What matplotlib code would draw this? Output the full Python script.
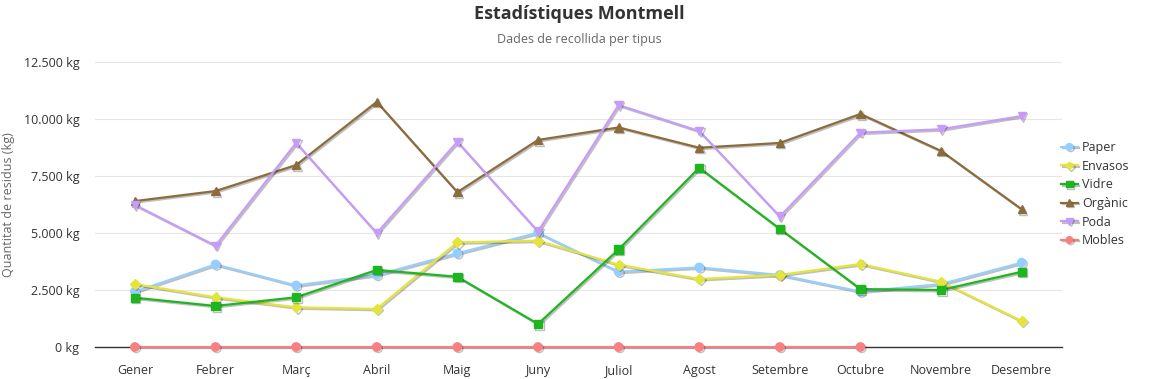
import matplotlib

matplotlib.use("Agg")
import matplotlib.pyplot as plt
import matplotlib.patheffects as pe
from matplotlib.ticker import FuncFormatter, MultipleLocator

plt.rcParams["font.family"] = ["Open Sans", "DejaVu Sans"]

months = ["Gener", "Febrer", "Març", "Abril", "Maig", "Juny", "Juliol",
          "Agost", "Setembre", "Octubre", "Novembre", "Desembre"]

paper = [2430, 3620, 2700, 3160, 4110, 5010, 3300, 3490, 3160, 2430, 2760, 3700]
envasos = [2760, 2180, 1740, 1670, 4590, 4660, 3610, 2980, 3160, 3640, 2860, 1140]
vidre = [2160, 1800, 2180, 3380, 3080, 1010, 4280, 7860, 5180, 2540, 2500, 3300]
organic = [6400, 6840, 7980, 10750, 6790, 9080, 9630, 8740, 8950, 10220, 8600, 6040]
poda = [6230, 4440, 8950, 4990, 9000, 5060, 10610, 9470, 5720, 9400, 9550, 10130]
mobles = [0, 0, 0, 0, 0, 0, 0, 0, 0, 0, None, None]

series = [
    ("Paper", paper, "#95ceff", "o"),
    ("Envasos", envasos, "#e4e43a", "D"),
    ("Vidre", vidre, "#1fb51f", "s"),
    ("Orgànic", organic, "#8c6b3c", "^"),
    ("Poda", poda, "#c69cf9", "v"),
    ("Mobles", mobles, "#f88080", "o"),
]

W, H = 1158, 379
fig = plt.figure(figsize=(W / 100, H / 100), dpi=100)
left, right, top, bottom = 94.6, 1062, 62, 347
ax = fig.add_axes([left / W, 1 - bottom / H, (right - left) / W, (bottom - top) / H])

shadow = [pe.SimpleLineShadow(offset=(1, -1), alpha=0.25, shadow_color="black"), pe.Normal()]
x = list(range(len(months)))
for name, vals, color, marker in series:
    ys = [float("nan") if v is None else v for v in vals]
    ms = 5.0 if marker == "D" else 6.0
    ax.plot(x, ys, color=color, lw=1.6, marker=marker, ms=ms, mec=color,
            label=name, path_effects=shadow, zorder=3, clip_on=False)

ax.set_xlim(-0.5, len(months) - 0.5)
ax.set_ylim(0, 12500)
ax.yaxis.set_major_locator(MultipleLocator(2500))
ax.yaxis.set_major_formatter(FuncFormatter(lambda v, _: f"{int(v):,} kg".replace(",", ".")))
ax.set_xticks(x)
ax.set_xticklabels(months)
ax.grid(axis="y", color="#e6e6e6", lw=0.8)
ax.set_axisbelow(True)
for s in ["top", "right", "left"]:
    ax.spines[s].set_visible(False)
ax.spines["bottom"].set_color("#333333")
ax.spines["bottom"].set_linewidth(1.0)
ax.spines["bottom"].set_zorder(2)
ax.tick_params(axis="both", length=0, labelsize=9, colors="#333333")
ax.tick_params(axis="y", pad=11)
ax.tick_params(axis="x", pad=12)
ax.set_ylabel("Quantitat de residus (kg)", fontsize=9, color="#666666")
ax.yaxis.set_label_coords((15 - left) / (right - left), 0.5)

fig.text(0.5, 1 - 14 / H, "Estadístiques Montmell", ha="center", va="center",
         fontsize=13, fontweight="bold", color="#333333")
fig.text(0.5, 1 - 40 / H, "Dades de recollida per tipus", ha="center", va="center",
         fontsize=9, color="#666666")

leg = fig.legend(loc="upper left", bbox_to_anchor=(1050 / W, 1 - 130 / H), frameon=False,
                 fontsize=9, handlelength=1.3, handletextpad=0.35, labelspacing=0.45,
                 markerscale=0.8, labelcolor="#333333")

fig.savefig("out.png", dpi=100, facecolor="white")
